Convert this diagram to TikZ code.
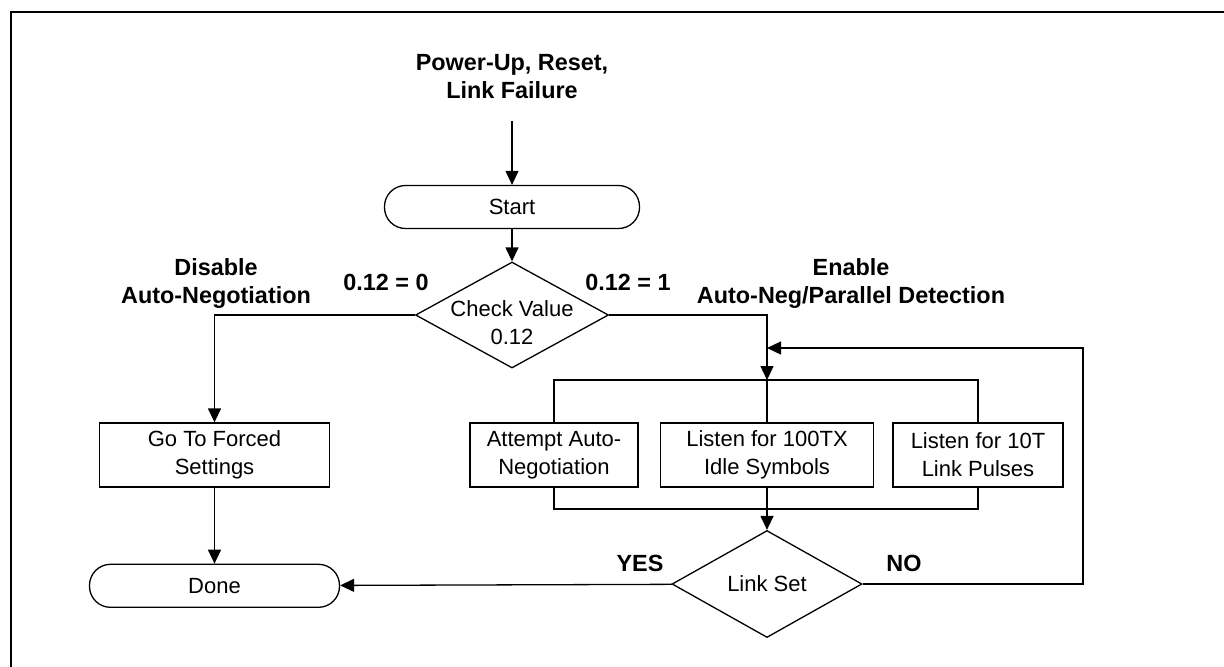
\documentclass[tikz,border=0pt]{standalone}
\usepackage{fontspec}
\setmainfont{Liberation Sans}
\usepackage{tikz}
\usetikzlibrary{positioning}
\usetikzlibrary{arrows.meta,shapes.geometric}

\begin{document}
\begin{tikzpicture}[x=0.5pt,y=-0.5pt,line width=0.65pt,
  >={Triangle[length=7pt,width=6.5pt]},
  font=\fontsize{11}{14}\selectfont,
  proc/.style={draw,align=center,minimum height=32pt,inner sep=0pt},
  term/.style={draw,rounded corners=10.5pt,minimum height=21.5pt,inner sep=0pt},
  decision/.style={draw,diamond,inner sep=0pt},
  lbl/.style={font=\fontsize{11.7}{14}\selectfont\bfseries,align=center,inner sep=0pt}]
\useasboundingbox (0,0) rectangle (1224,666);
\draw[line width=1pt] (1230,12) -- (11,12) -- (11,670);

\node[lbl] (power) at (512,77) {Power-Up, Reset,\\Link Failure};
\node[term,minimum width=127.5pt] (start) at (512,207) {Start};
\node[decision,minimum width=96.5pt,minimum height=53pt] (check) at (512,315) {};
\node[align=center,inner sep=0pt] (checktxt) at ([yshift=-4pt]check.center) {Check Value\\0.12};

\node[proc,minimum width=115pt] (forced) at (214.5,455) {Go To Forced\\Settings};
\node[term,minimum width=125pt,below=38pt of forced] (done) {Done};

\node[proc,minimum width=84pt] (attempt) at (554,455) {Attempt Auto-\\Negotiation};
\node[proc,minimum width=106.5pt] (listen100) at (767,455) {Listen for 100TX\\Idle Symbols};
\node[proc,minimum width=85pt] (listen10) at (978,455) {Listen for 10T\\Link Pulses};
\node[decision,minimum width=95pt,minimum height=53.5pt] (link) at (767,584) {Link Set};

\coordinate (split) at (767,380);
\coordinate (merge) at (767,509);
\coordinate (back) at (1083,348);
\coordinate (backin) at (767,348);

% branch labels
\node[lbl] (disable) at (216,283) {Disable\\Auto-Negotiation};
\node[lbl] (enable) at (851,283) {Enable\\Auto-Neg/Parallel Detection};
\node[lbl,anchor=base] (cv0) at (386,290) {0.12 = 0};
\node[lbl,anchor=base] (cv1) at (628,290) {0.12 = 1};
\node[lbl,anchor=base] (yes) at (640,571) {YES};
\node[lbl,anchor=base] (no) at (904,571) {NO};

\draw (power) edge[->,shorten <=10.5pt] (start)
      (start) edge[->] (check)
      (forced) edge[->] (done)
      (merge) edge[->] (link)
      (link) edge[->] (done);
\draw[->] (check.west) -| (forced.north);
\draw[->] (check.east) -| (split);
\draw (attempt.north) |- (split) -| (listen10.north);
\draw (split) -- (listen100.north);
\draw (attempt.south) |- (merge) -| (listen10.south);
\draw (listen100.south) -- (merge);
\draw[->] (link.east) -| (back) -- (backin);
\end{tikzpicture}
\end{document}
